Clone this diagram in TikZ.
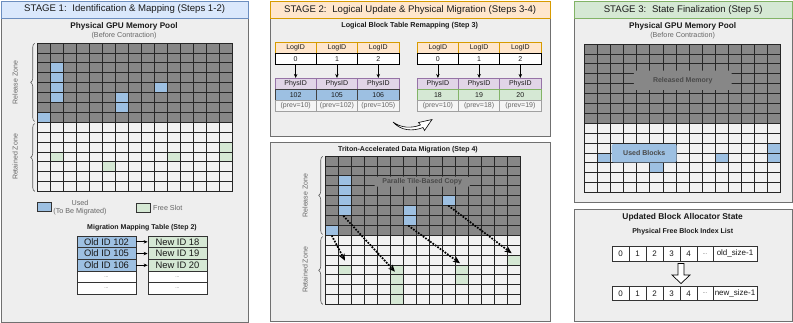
\documentclass[tikz,border=0pt]{standalone}
\usepackage{fontspec}
\setmainfont{Liberation Sans}
\usetikzlibrary{arrows.meta,decorations.pathreplacing}
\definecolor{panelfill}{HTML}{EEEEEE}
\definecolor{panelline}{HTML}{707070}
\definecolor{hdblue}{HTML}{DAE8FC}
\definecolor{hdblueline}{HTML}{6C8EBF}
\definecolor{hdorange}{HTML}{FFE6CC}
\definecolor{hdorangeline}{HTML}{D79B00}
\definecolor{hdgreen}{HTML}{D5E8D4}
\definecolor{hdgreenline}{HTML}{82B366}
\definecolor{cellgray}{HTML}{878787}
\definecolor{cellwhite}{HTML}{F2F2F2}
\definecolor{cellblue}{HTML}{9DC0E2}
\definecolor{cellgreen}{HTML}{D5E8D4}
\definecolor{purplefill}{HTML}{E1D5E7}
\definecolor{purpleline}{HTML}{9673A6}
\definecolor{txtgray}{HTML}{666666}
\definecolor{labeltxt}{HTML}{4A4A4A}
\definecolor{darktxt}{HTML}{1A1A1A}
\definecolor{prevfill}{HTML}{F5F5F5}
\definecolor{prevline}{HTML}{A0A0A0}

\newcommand{\myfs}[1]{\fontsize{#1pt}{#1pt}\selectfont}
\def\gcw{13}
\def\gch{9.9}
\newcommand{\gridbase}{%
  \fill[cellgray] (0,0) rectangle (15*\gcw,8*\gch);
  \fill[cellwhite] (0,8*\gch) rectangle (15*\gcw,15*\gch);}
\newcommand{\gridlines}{%
  \foreach \i in {0,...,15} {\draw[gridline] (\i*\gcw,0) -- (\i*\gcw,15*\gch);}
  \foreach \j in {0,...,15} {\draw[gridline] (0,\j*\gch) -- (15*\gcw,\j*\gch);}}
\newcommand{\cellfill}[3]{\fill[#3] (#1*\gcw,#2*\gch) rectangle ++(\gcw,\gch);}

\begin{document}
\begin{tikzpicture}[x=1pt,y=-1pt,
  panel/.style={draw=panelline, fill=panelfill, line width=0.8, inner sep=0, anchor=north west},
  hdr/.style={line width=0.8, inner sep=0, anchor=north west, font=\myfs{9.6}, text=darktxt},
  ttl/.style={font=\bfseries\myfs{8.2}, text=darktxt, inner sep=0},
  ttlsm/.style={font=\bfseries\myfs{7}, text=darktxt, inner sep=0},
  sub/.style={font=\myfs{7.2}, text=txtgray, inner sep=0},
  gridline/.style={draw=black!85, line width=0.8},
  zonebrace/.style={decorate, decoration={brace, amplitude=4}, draw=black!65, line width=0.6},
  zonelabel/.style={font=\myfs{7}, text=txtgray, inner sep=0, rotate=90},
  mcell/.style={draw=black!80, line width=0.8, minimum width=59pt, minimum height=11.7pt, inner sep=0, font=\myfs{9.4}, text=darktxt},
  dots/.style={font=\myfs{5}, text=txtgray},
  tcell/.style={line width=0.7, minimum width=41.3pt, minimum height=11pt, inner sep=0, font=\myfs{7}, text=darktxt},
  sarrow/.style={-{Stealth[length=4pt,width=3.5pt]}, line width=0.8, black},
  migarrow/.style={line width=1.7, dash pattern=on 1.7pt off 1.3pt, -{Stealth[length=7pt,width=6pt]}},
  overlab/.style={rounded corners=2, inner sep=0, font=\bfseries\myfs{7}, text=labeltxt},
  lcell/.style={draw=black!80, fill=white, line width=0.7, minimum height=14.5pt, inner sep=0, font=\myfs{8}, text=darktxt}
]
\useasboundingbox (0,0) rectangle (793,322);

%================ STAGE 1 =================
\node[panel, minimum width=247.5pt, minimum height=321pt] (p1) at (0.5,0.5) {};
\node[hdr, fill=hdblue, draw=hdblueline, minimum width=247.5pt, minimum height=17pt] (h1) at (0.5,0.5)
  {STAGE 1:\hspace{0.6em}Identification \& Mapping (Steps 1-2)};
\node[ttl] (t1) at (124,26.7) {Physical GPU Memory Pool};
\node[sub] (s1) at (124,35.3) {(Before Contraction)};

\begin{scope}[shift={(37.7,43)}]
  \gridbase
  \foreach \c/\r in {1/2,1/3,1/4,9/4,1/5,6/5,6/6,0/7} {\cellfill{\c}{\r}{cellblue}}
  \foreach \c/\r in {14/10,1/11,10/11,14/11,5/12} {\cellfill{\c}{\r}{cellgreen}}
  \gridlines
  \draw[zonebrace] (-3,78.5) -- (-3,0.3);
  \draw[zonebrace] (-3,148.3) -- (-3,80.5);
  \node[zonelabel] (rz1) at (-22.7,39.6) {Release Zone};
  \node[zonelabel] (tz1) at (-22.7,114) {Retained Zone};
\end{scope}

% legend
\node[draw=black!80, fill=cellblue, line width=0.8, minimum width=13.8pt, minimum height=9pt, inner sep=0] (lgu) at (44.6,207.2) {};
\node[sub] (lgut1) at (80,202.7) {Used};
\node[sub] (lgut2) at (80,211.7) {(To Be Migrated)};
\node[draw=black!80, fill=cellgreen, line width=0.8, minimum width=14.5pt, minimum height=9pt, inner sep=0] (lgf) at (143.3,207.5) {};
\node[sub, anchor=west] (lgft) at (153,207.5) {Free Slot};

% mapping table
\node[ttlsm] (mt) at (142,227.3) {Migration Mapping Table (Step 2)};
\node[mcell, fill=cellblue] (m1l) at (106.5,241.85) {Old ID 102};
\node[mcell, fill=cellblue] (m2l) at (106.5,253.55) {Old ID 105};
\node[mcell, fill=cellblue] (m3l) at (106.5,265.25) {Old ID 106};
\node[mcell, fill=white, dots] (m4l) at (106.5,276.95) {...};
\node[mcell, fill=white, dots] (m5l) at (106.5,288.65) {...};
\node[mcell, fill=cellgreen] (m1r) at (177.5,241.85) {New ID 18};
\node[mcell, fill=cellgreen] (m2r) at (177.5,253.55) {New ID 19};
\node[mcell, fill=cellgreen] (m3r) at (177.5,265.25) {New ID 20};
\node[mcell, fill=white, dots] (m4r) at (177.5,276.95) {...};
\node[mcell, fill=white, dots] (m5r) at (177.5,288.65) {...};
\foreach \k in {1,2,3} {\draw[sarrow] (m\k l.east) -- (m\k r.west);}

%================ STAGE 2 =================
\node[panel, minimum width=280.5pt, minimum height=135.5pt] (p2a) at (269.5,0.5) {};
\node[hdr, fill=hdorange, draw=hdorangeline, minimum width=280.5pt, minimum height=17.5pt] (h2) at (269.5,0.5)
  {STAGE 2:\hspace{0.6em}Logical Update \& Physical Migration (Steps 3-4)};
\node[ttlsm, font=\bfseries\myfs{7.2}] (t2a) at (409.7,25.3) {Logical Block Table Remapping (Step 3)};

\foreach \k/\cx/\pid/\prv in {0/295.65/102/{(prev=10)},1/336.95/105/{(prev=102)},2/378.3/106/{(prev=105)}}{
  \node[tcell, fill=hdorange, draw=hdorangeline] (lh\k) at (\cx,47.5) {LogID};
  \node[tcell, fill=white, draw=black] (lv\k) at (\cx,58.6) {\k};
  \node[tcell, fill=purplefill, draw=purpleline] (lp\k) at (\cx,83.8) {PhysID};
  \node[tcell, fill=cellblue, draw=black!75] (lc\k) at (\cx,94.8) {\pid};
  \node[tcell, fill=prevfill, draw=prevline, text=txtgray, minimum height=11.4pt] (lr\k) at (\cx,106) {\prv};
  \draw[sarrow] (lv\k.south) -- (lp\k.north);
}
\foreach \k/\cx/\pid/\prv in {0/437.9/18/{(prev=10)},1/479.1/19/{(prev=18)},2/520.35/20/{(prev=19)}}{
  \node[tcell, fill=hdorange, draw=hdorangeline] (rh\k) at (\cx,47.5) {LogID};
  \node[tcell, fill=white, draw=black] (rv\k) at (\cx,58.6) {\k};
  \node[tcell, fill=purplefill, draw=purpleline] (rp\k) at (\cx,83.8) {PhysID};
  \node[tcell, fill=cellgreen, draw=hdgreenline] (rc\k) at (\cx,94.8) {\pid};
  \node[tcell, fill=prevfill, draw=prevline, text=txtgray, minimum height=11.4pt] (rr\k) at (\cx,106) {\prv};
  \draw[sarrow] (rv\k.south) -- (rp\k.north);
}
% curved hollow arrow
\draw[fill=white, line width=0.6, line join=miter]
  (393,122) .. controls (401,131) and (413,131.5) .. (423,127.5)
  -- (424.5,130.5) -- (432,119.5) -- (418.5,122.5) -- (420.5,125)
  .. controls (411,128.5) and (401,128) .. (393,122) -- cycle;

% lower panel
\node[panel, minimum width=280pt, minimum height=179pt] (p2b) at (269.5,141.5) {};
\node[ttlsm] (t2b) at (408,150) {Triton-Accelerated Data Migration (Step 4)};
\begin{scope}[shift={(325.7,156)}]
  \gridbase
  \foreach \c/\r in {1/2,1/3,1/4,9/4,1/5,6/5,6/6,0/7} {\cellfill{\c}{\r}{cellblue}}
  \foreach \c/\r in {14/10,1/11,5/11,10/11,5/12,10/12,5/13,5/14} {\cellfill{\c}{\r}{cellgreen}}
  \gridlines
  \draw[zonebrace] (-3,78.5) -- (-3,0.3);
  \draw[zonebrace] (-3,148.3) -- (-3,80.5);
  \node[zonelabel] (rz2) at (-20.7,39.6) {Release Zone};
  \node[zonelabel] (tz2) at (-20.7,114) {Retained Zone};
  \coordinate (a1s) at (6,79.5);
  \coordinate (a1e) at (19.3,104.7);
  \coordinate (a2s) at (17.6,59.8);
  \coordinate (a2e) at (69.3,115.7);
  \coordinate (a3s) at (82.6,69.6);
  \coordinate (a3e) at (134.3,107.3);
  \coordinate (a4s) at (122.6,49.6);
  \coordinate (a4e) at (186,97.3);
\end{scope}
\node[overlab, fill=cellgray, minimum width=95.7pt, minimum height=10pt] (pcopy) at (422.2,181.7) {Paralle Tile-Based Copy};
\foreach \k in {1,2,3,4} {\draw[migarrow] (a\k s) -- (a\k e);}

%================ STAGE 3 =================
\node[panel, minimum width=218.5pt, minimum height=201pt] (p3a) at (573.5,0.5) {};
\node[hdr, fill=hdgreen, draw=hdgreenline, minimum width=218.5pt, minimum height=17.5pt] (h3) at (573.5,0.5)
  {STAGE 3:\hspace{0.6em}State Finalization (Step 5)};
\node[ttl] (t3) at (682.7,26.7) {Physical GPU Memory Pool};
\node[sub] (s3) at (682.7,35.3) {(Before Contraction)};
\begin{scope}[shift={(584.3,44)}]
  \def\gcw{13.1}
  \gridbase
  \foreach \c/\r in {14/10,1/11,10/11,14/11,5/12} {\cellfill{\c}{\r}{cellblue}}
  \gridlines
\end{scope}
\node[overlab, fill=cellgray, minimum width=97.7pt, minimum height=19.3pt] (relmem) at (682.8,80.3) {Released Memory};
\node[overlab, fill=cellblue, text=darktxt!80, minimum width=65pt, minimum height=18.3pt] (usedb) at (644.2,153.2) {Used Blocks};

\node[panel, minimum width=218.5pt, minimum height=112.5pt] (p3b) at (573.5,208.5) {};
\node[ttl, font=\bfseries\myfs{8.4}] (t3b) at (682.7,217.7) {Updated Block Allocator State};
\node[ttlsm] (t3c) at (682.7,231.7) {Physical Free Block Index List};

\foreach \k/\cx/\w/\txt in {0/620.5/17/0,1/637.5/17/1,2/654.5/17/2,3/671.5/17/3,4/688.5/17/4,5/705/16/{\myfs{6}\textcolor{txtgray}{...}},6/735/44/old\_size-1}{
  \node[lcell, minimum width=\w pt] (oa\k) at (\cx,253.75) {\txt};
}
\foreach \k/\cx/\w/\txt in {0/620.5/17/0,1/637.5/17/1,2/654.5/17/2,3/671.5/17/3,4/688.5/17/4,5/705/16/{\myfs{6}\textcolor{txtgray}{...}},6/735/44/new\_size-1}{
  \node[lcell, minimum width=\w pt] (nb\k) at (\cx,293.25) {\txt};
}
\draw[fill=white, line width=0.7, line join=miter]
  (678,263.5) -- (684,263.5) -- (684,275) -- (690,275) -- (681,283.5) -- (672,275) -- (678,275) -- cycle;

\end{tikzpicture}
\end{document}
